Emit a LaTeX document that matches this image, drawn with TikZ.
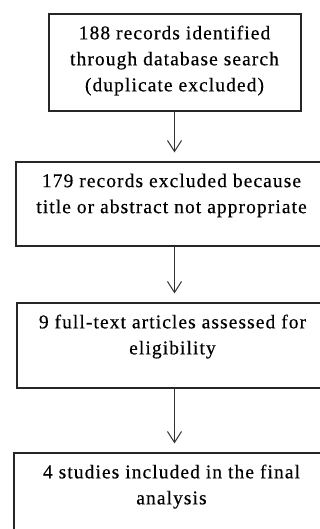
\documentclass[tikz,border=0pt]{standalone}
\usepackage{fontspec}
\setmainfont{Liberation Serif}[LetterSpace=5.5, FakeBold=0.4]
\usetikzlibrary{arrows.meta,calc}
\begin{document}
\begin{tikzpicture}[x=1pt,y=-1pt,
  box/.style={draw=black!85, line width=1.2pt, inner sep=0pt, fill=white},
  txt/.style={font=\fontsize{19.5}{26}\selectfont, align=center, inner sep=0pt, anchor=north, text=black},
  conn/.style={draw=black!80, line width=1pt, -{Straight Barb[length=11pt,width=14pt]}, shorten >=9pt}]
\useasboundingbox (0,0) rectangle (320,529);
\clip (0,0) rectangle (320,529);
\fill[white] (0,0) rectangle (320,529);
\node[box, minimum width=252pt, minimum height=97pt] (b1) at (175,62.5) {};
\node[box, minimum width=311pt, minimum height=84pt] (b2) at (171.5,204) {};
\node[box, minimum width=311pt, minimum height=85pt] (b3) at (172.5,345.5) {};
\node[box, minimum width=315pt, minimum height=85pt] (b4) at (171.5,495.5) {};
\node[txt] (t1) at ($(b1.north)+(-0.5,12)$) {188 records identified\\through database search\\(duplicate excluded)};
\node[txt] (t2) at ($(b2.north)+(0,12)$) {179 records excluded because\\title or abstract not appropriate};
\node[txt] (t3) at ($(b3.north)+(0,12)$) {9 full-text articles assessed for\\eligibility};
\node[txt] (t4) at ($(b4.north)+(0,12)$) {4 studies included in the final\\analysis};
\coordinate (a1) at ($(b1.south)+(-0.5,0)$);
\coordinate (a2) at ($(b2.south)+(3,0)$);
\coordinate (a3) at ($(b3.south)+(2,0)$);
\draw[conn] (a1) -- (a1 |- b2.north);
\draw[conn] (a2) -- (a2 |- b3.north);
\draw[conn] (a3) -- (a3 |- b4.north);
\end{tikzpicture}
\end{document}
